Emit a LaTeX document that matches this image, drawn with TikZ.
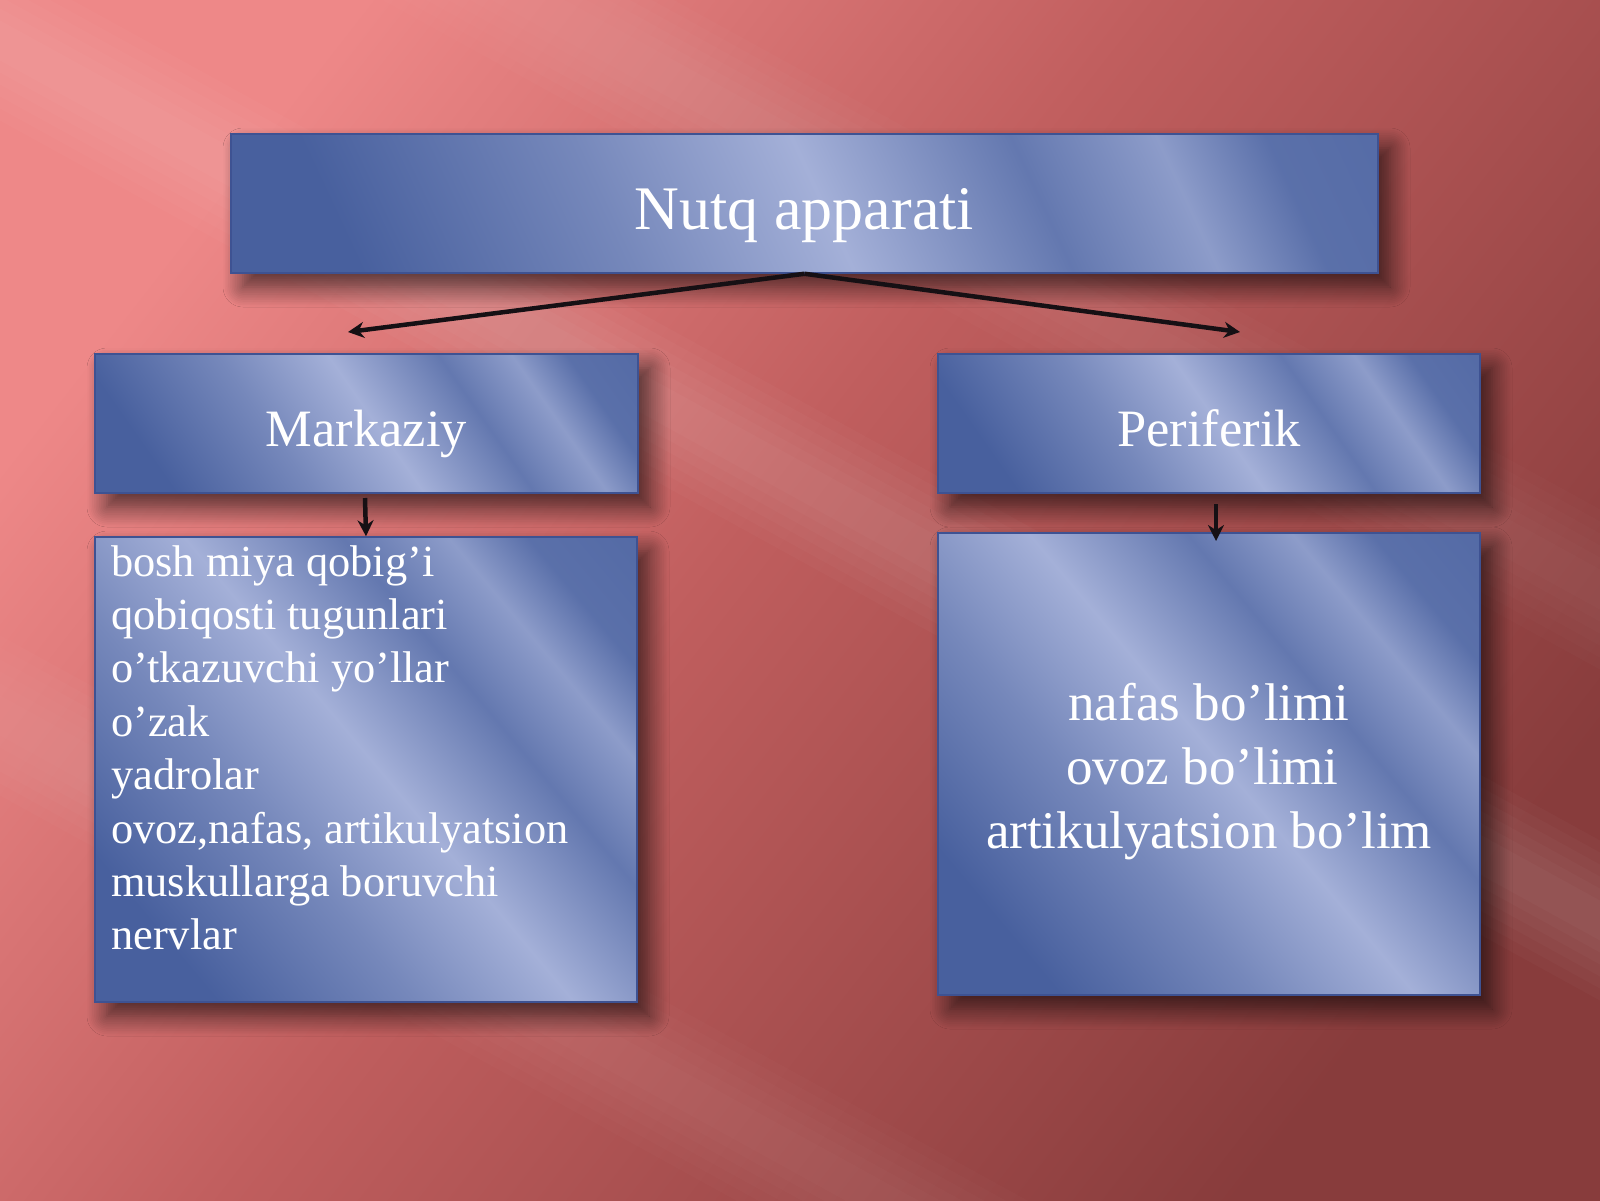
\documentclass[tikz,border=0pt]{standalone}
\usepackage{fontspec}
\setmainfont{Liberation Serif}
\usetikzlibrary{positioning,arrows.meta,shadows.blur}

\definecolor{bgpink}{RGB}{238,136,136}
\definecolor{bgmid}{RGB}{192,94,94}
\definecolor{bgdark}{RGB}{136,60,60}
\definecolor{bxdark}{RGB}{72,96,158}
\definecolor{bxlight}{RGB}{164,176,216}
\definecolor{bxedge}{RGB}{62,82,146}
\definecolor{arrowcol}{RGB}{22,16,20}

\pgfdeclarehorizontalshading{boxshade}{100bp}{color(0bp)=(bxdark); color(24bp)=(bxdark); color(39bp)=(bxdark!50!bxlight); color(51bp)=(bxlight); color(63bp)=(bxdark!70!bxlight); color(71bp)=(bxlight!75!bxdark); color(77bp)=(bxdark!80!bxlight); color(100bp)=(bxdark)}
\pgfdeclarehorizontalshading{bgshade}{100bp}{color(0bp)=(bgpink); color(25bp)=(bgpink); color(47bp)=(bgmid); color(75bp)=(bgdark); color(100bp)=(bgdark)}

\tikzset{
  box/.style={draw=bxedge, line width=1.5pt, shading=boxshade, inner sep=0pt,
    text=white, blur shadow={shadow xshift=12pt, shadow yshift=-14pt, shadow blur radius=20pt, shadow blur steps=12, shadow opacity=65}},
  link/.style={line width=4.5pt, draw=arrowcol, -{Stealth[length=16pt,width=16pt]}},
}

\begin{document}
\begin{tikzpicture}[x=1pt,y=-1pt]
\useasboundingbox (0,0) rectangle (1600,1200);
% background
\shade[shading=bgshade, shading angle=-38] (0,0) rectangle (1600,1200);
\foreach \w in {80,68,56,44,32,20} {
  \fill[white, opacity=0.022] (-50,13-\w) -- (1650,948-\w) -- (1650,948+\w) -- (-50,13+\w) -- cycle;
  \fill[white, opacity=0.016] (-50,688-\w) -- (1650,1623-\w) -- (1650,1623+\w) -- (-50,688+\w) -- cycle;
  \fill[white, opacity=0.016] (-50,-318-\w) -- (1650,617-\w) -- (1650,617+\w) -- (-50,-318+\w) -- cycle;
}

% boxes
\node[box, shading angle=25, minimum width=1147pt, minimum height=139pt, text height=64pt, text depth=13pt, font=\fontsize{62}{74}\selectfont] (nutq) at (804.5,203.5) {Nutq apparati};
\node[box, shading angle=35, minimum width=543pt, minimum height=139pt, text height=56pt, text depth=11pt, font=\fontsize{52.5}{63}\selectfont] (mark) at (366.5,423.5) {Markaziy};
\node[box, shading angle=35, minimum width=542pt, minimum height=139pt, text height=56pt, text depth=11pt, font=\fontsize{52.5}{63}\selectfont] (peri) at (1209,423.5) {Periferik};
\node[box, shading angle=40, minimum width=542pt, minimum height=465pt] (mlist) at (366,769.5) {};
\node[box, shading angle=40, minimum width=542pt, minimum height=462pt] (plist) at (1209,764) {};

% texts
\node[text=white, inner sep=0pt, anchor=north west, align=left, font=\fontsize{44.4}{53.4}\selectfont] (mtext) at (111,545) {bosh miya qobig’i\\qobiqosti tugunlari\\o’tkazuvchi yo’llar\\o’zak\\yadrolar\\ovoz,nafas, artikulyatsion\\muskullarga boruvchi\\nervlar};
\node[text=white, inner sep=0pt, anchor=north, align=center, font=\fontsize{53}{64}\selectfont] (ptext) at (1209,683) {nafas bo’limi\\ovoz bo’limi\kern13pt\\artikulyatsion bo’lim};

% arrows
\coordinate (mend) at (348,332);
\coordinate (pend) at (1240,332);
\coordinate (mstart) at (365,498);
\coordinate (pstart) at (1216,504);
\coordinate (pdown) at (1216,541);
\draw[link] (nutq.south) -- (mend);
\draw[link] (nutq.south) -- (pend);
\draw[link] (mstart) -- (mlist.north);
\draw[link] (pstart) -- (pdown);

\end{tikzpicture}
\end{document}
